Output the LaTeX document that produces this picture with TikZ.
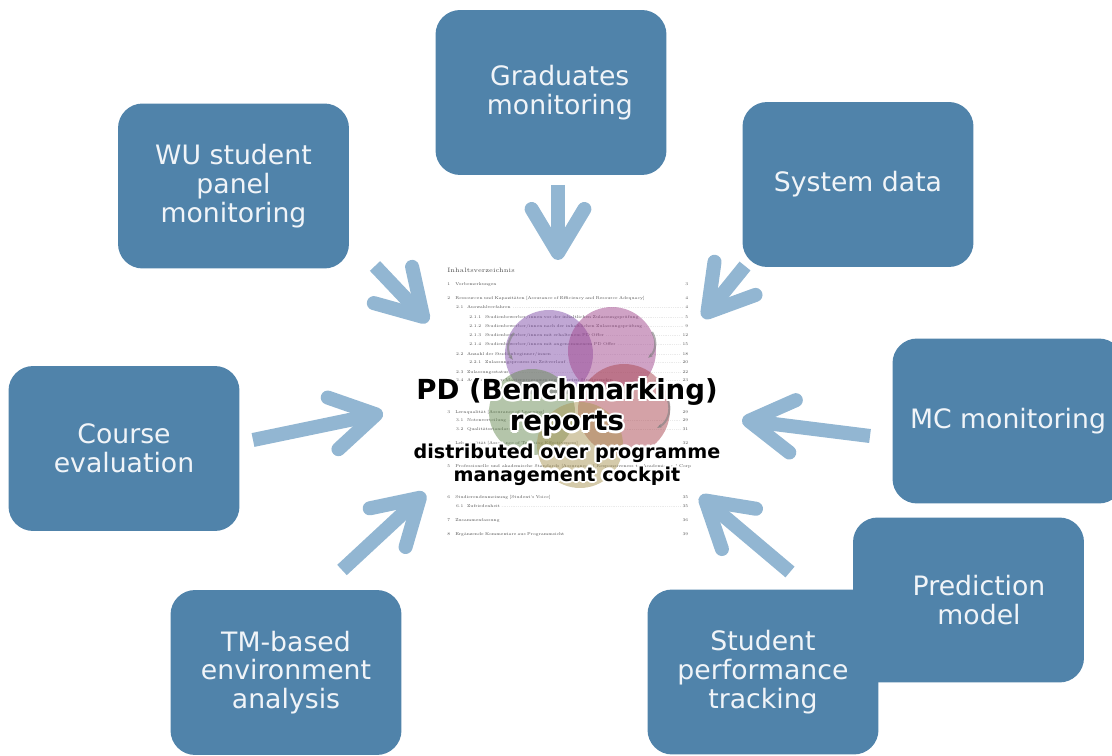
\documentclass[tikz,border=0pt]{standalone}
\usepackage{fontspec}
\newfontfamily\boxfont{DejaVu Sans}
\usetikzlibrary{arrows.meta}

\definecolor{boxblue}{RGB}{80,131,170}
\definecolor{arrowblue}{RGB}{146,182,210}
\definecolor{boxtext}{RGB}{240,244,248}
\definecolor{tocgray}{RGB}{75,75,75}
\definecolor{vennpurple}{RGB}{130,80,170}
\definecolor{vennmagenta}{RGB}{160,70,140}
\definecolor{venngreen}{RGB}{105,140,85}
\definecolor{vennred}{RGB}{170,70,80}
\definecolor{vennolive}{RGB}{170,150,85}

% table of contents entries
\newcommand{\tocsec}[3]{\makebox[4.5pt][l]{#1}#2\hfill#3}
\newcommand{\tocsub}[3]{\hspace*{5pt}\makebox[6.2pt][l]{#1}#2~\dotfill~#3}
\newcommand{\tocsubsub}[3]{\hspace*{12.5pt}\makebox[9pt][l]{#1}#2~\dotfill~#3}

\tikzset{
  srcbox/.style={fill=boxblue, rounded corners=14pt, minimum width=4.62cm,
    minimum height=3.3cm, inner sep=0pt, align=center, text=boxtext,
    font=\boxfont\fontsize{15.2}{16.3}\selectfont},
  feed/.style={draw=arrowblue, line width=8pt,
    -{Straight Barb[round, length=25pt, width=30pt]}},
  tocline/.style={anchor=west, inner sep=0pt, text width=4.82cm, text=tocgray,
    font=\fontsize{2.35}{3}\selectfont},
  venn/.style={fill opacity=0.5},
  cycle/.style={draw=gray, opacity=0.6, line width=1.2pt, -{Stealth[length=3pt]}},
  reporttext/.style={inner sep=0pt, font=\boxfont\bfseries},
}

\begin{document}
\begin{tikzpicture}[x=0.02cm, y=-0.02cm]
\useasboundingbox (0,0) rectangle (1112,756);

%report page in the middle
\node[anchor=west, inner sep=0pt, text=tocgray, font=\fontsize{3.6}{4}\selectfont] (toctitle) at (447,270) {Inhaltsverzeichnis};
\node[tocline] (toc1) at (447,284) {\tocsec{1}{Vorbemerkungen}{3}};
\node[tocline] (toc2) at (447,298) {\tocsec{2}{Ressourcen und Kapazit\"aten [Assurance of Efficiency and Resource Adequacy]}{4}};
\node[tocline] (toc21) at (447,307) {\tocsub{2.1}{Auswahlverfahren}{4}};
\node[tocline] (toc211) at (447,317) {\tocsubsub{2.1.1}{Studienbewerber/innen vor der inhaltlichen Zulassungspr\"ufung}{5}};
\node[tocline] (toc212) at (447,326) {\tocsubsub{2.1.2}{Studienbewerber/innen nach der inhaltlichen Zulassungspr\"ufung}{9}};
\node[tocline] (toc213) at (447,335) {\tocsubsub{2.1.3}{Studienbewerber/innen mit erhaltenem PD Offer}{12}};
\node[tocline] (toc214) at (447,344) {\tocsubsub{2.1.4}{Studienbewerber/innen mit angenommenem PD Offer}{15}};
\node[tocline] (toc22) at (447,354) {\tocsub{2.2}{Anzahl der Studienbeginner/innen}{18}};
\node[tocline] (toc221) at (447,362) {\tocsubsub{2.2.1}{Zulassungsprozess im Zeitverlauf}{20}};
\node[tocline] (toc23) at (447,372) {\tocsub{2.3}{Zulassungsstatus}{22}};
\node[tocline] (toc24) at (447,380) {\tocsub{2.4}{Anzahl aller im Masterprogramm registrierten Studierenden}{23}};
\node[tocline] (toc3) at (447,412) {\tocsec{3}{Lernqualit\"at [Assurance of Learning]}{29}};
\node[tocline] (toc31) at (447,420) {\tocsub{3.1}{Notenverteilung}{29}};
\node[tocline] (toc32) at (447,429) {\tocsub{3.2}{Qualit\"atsstandards}{31}};
\node[tocline] (toc4) at (447,443) {\tocsec{4}{Lehrqualit\"at [Assurance of Teaching Effectiveness]}{32}};
\node[anchor=west, inner sep=0pt, text=tocgray, font=\fontsize{2.35}{3}\selectfont] (toc5) at (447,466) {\makebox[4.5pt][l]{5}Professionelle und akademische Standards [Assurance of Responsiveness to Academic and Corp};
\node[tocline] (toc6) at (447,497) {\tocsec{6}{Studierendenmeinung [Student's Voice]}{35}};
\node[tocline] (toc61) at (447,506) {\tocsub{6.1}{Zufriedenheit}{35}};
\node[tocline] (toc7) at (447,520) {\tocsec{7}{Zusammenfassung}{36}};
\node[tocline] (toc8) at (447,534) {\tocsec{8}{Erg\"anzende Kommentare aus Programmsicht}{39}};

%venn circles over the page
\fill[venn, vennpurple] (549,354) circle[radius=0.88cm];
\fill[venn, vennmagenta] (612,351) circle[radius=0.88cm];
\fill[venn, venngreen] (532,412) circle[radius=0.86cm];
\fill[venn, vennred] (624,410) circle[radius=0.92cm];
\fill[venn, vennolive] (580,445) circle[radius=0.86cm];
\draw[cycle] (514,333) to[bend right=40] (513,360);
\draw[cycle] (652,332) to[bend left=40] (648,358);
\draw[cycle] (668,400) to[bend left=40] (657,428);

%title with white glow
\foreach \ty/\tsize/\ttext in {392/15.7/{PD (Benchmarking)}, 424/15.7/reports,
    453/10.9/{distributed over programme}, 476/10.9/{management cockpit}} {
  \foreach \dx/\dy in {-1.3/0, 1.3/0, 0/-1.3, 0/1.3, -0.9/-0.9, 0.9/0.9, -0.9/0.9, 0.9/-0.9}
    \node[reporttext, text=white, shift={(\dx pt,\dy pt)}] at (567,\ty) {\fontsize{\tsize}{\tsize}\selectfont\ttext};
  \node[reporttext, text=black] (line\ty) at (567,\ty) {\fontsize{\tsize}{\tsize}\selectfont\ttext};
}

%source boxes
\node[srcbox] (grad) at (551,92.5) {\hspace*{10pt}Graduates\\\hspace*{10pt}monitoring};
\node[srcbox] (panel) at (233.5,186) {WU student\\panel\\monitoring};
\node[srcbox] (sysdata) at (858,184.5) {System data};
\node[srcbox] (mc) at (1008,421) {MC monitoring};
\node[srcbox] (course) at (124,448.5) {Course\\evaluation};
\node[srcbox] (tm) at (286,672.5) {TM-based\\environment\\analysis};
\node[srcbox] (pred) at (968.5,600) {\hspace*{12pt}Prediction\\\hspace*{12pt}model};
\node[srcbox] (perf) at (763,672) {Student\\performance\\tracking};

%arrow ends
\coordinate (grad-out) at (558,185);
\coordinate (grad-in) at (558,260);
\coordinate (panel-out) at (375,266);
\coordinate (panel-in) at (428,322);
\coordinate (sysdata-out) at (745,266);
\coordinate (sysdata-in) at (703,318);
\coordinate (mc-out) at (870,436);
\coordinate (mc-in) at (742,420);
\coordinate (course-out) at (253,440);
\coordinate (course-in) at (383,413);
\coordinate (tm-out) at (342,570);
\coordinate (tm-in) at (425,493);
\coordinate (perf-out) at (790,572);
\coordinate (perf-in) at (700,496);

\foreach \src in {grad, panel, sysdata, mc, course, tm, perf}
  \draw[feed] (\src-out) -- (\src-in);

\end{tikzpicture}
\end{document}
